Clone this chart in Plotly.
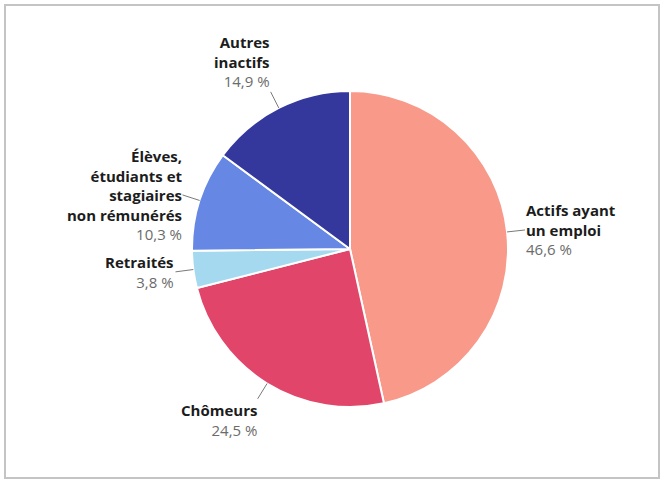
import math
import plotly.graph_objects as go

# ---- data ----
labels = ["Actifs ayant<br>un emploi", "Chômeurs", "Retraités",
          "Élèves,<br>étudiants et<br>stagiaires<br>non rémunérés", "Autres<br>inactifs"]
values = [46.6, 24.5, 3.8, 10.3, 14.9]
value_texts = ["46,6 %", "24,5 %", "3,8 %", "10,3 %", "14,9 %"]
colors = ["#F8998A", "#E1466A", "#A5D9EF", "#6787E4", "#34379C"]

# ---- layout parameters (pixels) ----
W, H = 667, 482
CX, CY, R = 350, 249, 158
LEAD = 18
anchors = [("left", "middle"), ("right", "top"), ("right", "middle"),
           ("right", "middle"), ("right", "bottom")]

fig = go.Figure()
fig.add_trace(go.Pie(
    labels=labels, values=values, sort=False, direction="clockwise", rotation=0,
    marker=dict(colors=colors, line=dict(color="white", width=2)),
    textinfo="none", hoverinfo="label+percent", showlegend=False,
    domain=dict(x=[(CX - R) / W, (CX + R) / W], y=[1 - (CY + R) / H, 1 - (CY - R) / H]),
))

total = sum(values)
cum = 0.0
for lab, v, vt, (xa, ya) in zip(labels, values, value_texts, anchors):
    mid = (cum + v / 2) / total * 2 * math.pi
    cum += v
    dx, dy = math.sin(mid), -math.cos(mid)
    px, py = CX + R * dx, CY + R * dy
    fig.add_annotation(
        x=px / W, y=1 - py / H, xref="paper", yref="paper",
        ax=LEAD * dx, ay=LEAD * dy, axref="pixel", ayref="pixel",
        showarrow=True, arrowhead=0, arrowwidth=1, arrowcolor="#7a7a7a", standoff=0,
        text=f"<b>{lab}</b><br><span style='color:#6b6b6b'>{vt}</span>",
        xanchor=xa, yanchor=ya, align=xa,
        font=dict(family="Open Sans", size=15, color="#1c1c1c"), borderpad=0,
    )

# frame around the picture
fig.add_shape(type="rect", xref="paper", yref="paper",
              x0=5 / W, x1=659 / W, y0=1 - 478 / H, y1=1 - 5 / H,
              line=dict(color="#c4c4c4", width=2), fillcolor="rgba(0,0,0,0)")

fig.update_layout(width=W, height=H, margin=dict(l=0, r=0, t=0, b=0),
                  paper_bgcolor="white", plot_bgcolor="white")
fig.write_html("out.html", config={"displayModeBar": False},
               post_script="document.body.style.margin='0';")
